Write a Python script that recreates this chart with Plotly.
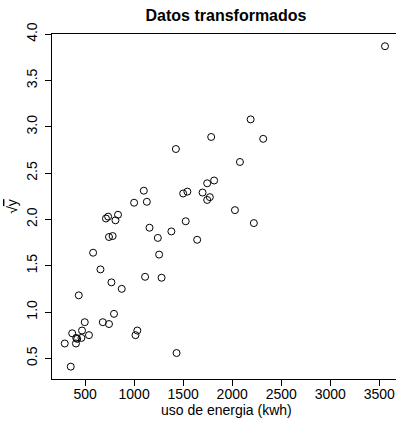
import plotly.graph_objects as go

# Energy use (kWh) for each customer and the square root of peak demand
uso_kwh = [3558, 2188, 1786, 2316, 1426, 2079, 1816, 1745, 1099, 1500,
           1543, 1698, 1772, 1745, 1000, 1130, 2028, 713, 735, 810,
           836, 1526, 2221, 1157, 1380, 744, 781, 1242, 1643, 582,
           1255, 657, 1112, 1280, 769, 874, 436, 795, 497, 681,
           744, 1033, 1014, 369, 469, 410, 407, 463, 540, 293,
           1433, 354, 420]
raiz_y = [3.87, 3.08, 2.89, 2.87, 2.76, 2.62, 2.42, 2.39, 2.31, 2.28,
          2.30, 2.29, 2.24, 2.21, 2.18, 2.19, 2.10, 2.01, 2.03, 1.99,
          2.05, 1.98, 1.96, 1.91, 1.87, 1.81, 1.82, 1.80, 1.78, 1.64,
          1.62, 1.46, 1.38, 1.37, 1.32, 1.25, 1.18, 0.98, 0.89, 0.89,
          0.87, 0.80, 0.75, 0.77, 0.80, 0.72, 0.66, 0.72, 0.75, 0.66,
          0.557, 0.41, 0.71]

x_ticks = [500, 1000, 1500, 2000, 2500, 3000, 3500]
y_ticks = [0.5, 1.0, 1.5, 2.0, 2.5, 3.0, 3.5, 4.0]

FONT = "Liberation Sans, Arial, Helvetica, sans-serif"
PLOT_H = 421 - 34 - 42

fig = go.Figure(
    go.Scatter(
        x=uso_kwh,
        y=raiz_y,
        mode="markers",
        marker=dict(symbol="circle-open", size=7, color="black",
                    line=dict(width=1, color="black")),
        hoverinfo="x+y",
    )
)

axis_common = dict(
    showgrid=False,
    zeroline=False,
    showline=True,
    linecolor="black",
    linewidth=1,
    ticks="outside",
    ticklen=6,
    tickwidth=1,
    tickcolor="black",
    tickfont=dict(family=FONT, size=14, color="black"),
    title_font=dict(family=FONT, size=14, color="black"),
)

fig.update_xaxes(
    **axis_common,
    range=[163, 3670],
    tickvals=x_ticks,
    ticktext=[str(v) for v in x_ticks],
    mirror=True,
    ticklabelstandoff=-4,
)
fig.update_yaxes(
    **axis_common,
    range=[0.2765, 4.002],
    tickvals=y_ticks,
    ticktext=[f"{v:.1f}" for v in y_ticks],
    tickangle=-90,
    mirror=False,
    ticklabelstandoff=2,
    title_text="√<span style='text-decoration:overline'>y</span>",
    title_standoff=3,
)

fig.update_layout(
    width=396,
    height=421,
    margin=dict(l=52, r=0, t=34, b=42, autoexpand=False),
    paper_bgcolor="white",
    plot_bgcolor="white",
    showlegend=False,
    title=dict(
        text="<b>Datos transformados</b>",
        font=dict(family=FONT, size=16, color="black"),
        x=226 / 396,
        xanchor="center",
        xref="container",
        y=1 - 15 / 421,
        yanchor="middle",
        yref="container",
    ),
    annotations=[
        dict(
            text="uso de energia (kwh)",
            xref="paper", yref="paper",
            x=0.5 + (226 - 224) / 344, y=-(410 - 379) / PLOT_H,
            xanchor="center", yanchor="middle",
            showarrow=False,
            font=dict(family=FONT, size=14, color="black"),
        )
    ],
)

fig.write_html("out.html")
